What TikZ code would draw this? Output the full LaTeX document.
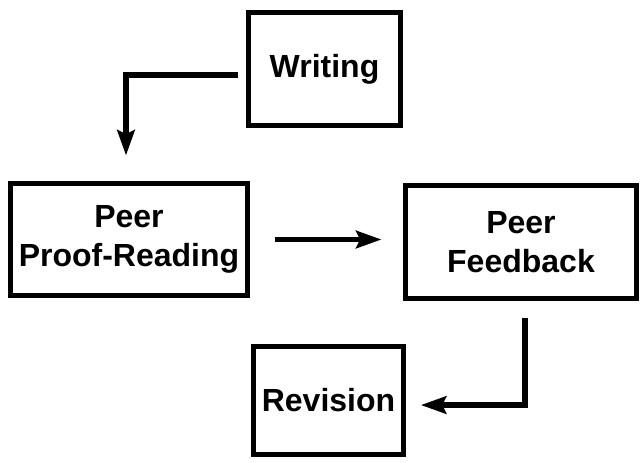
\documentclass[tikz,border=0pt]{standalone}
\usepackage{fontspec}
\setmainfont{Liberation Sans}
\usetikzlibrary{arrows.meta}

\begin{document}
\begin{tikzpicture}[x=0.75pt, y=-0.75pt, align=center,
		font=\fontsize{24}{29}\selectfont\bfseries,
		box/.style={draw, line width=4pt, inner sep=0pt},
		flow/.style={line width=4pt, -{Stealth[length=19pt,width=13pt,inset=3pt]}}]
		\useasboundingbox (0,0) rectangle (642,462);
		\node[box, minimum width=114pt, minimum height=84.75pt] (wri) at (324.5,69) {Writing};
		\node[box, minimum width=177.75pt, minimum height=84pt] (pr) at (129,239.5) {Peer\\Proof-Reading};
		\node[box, minimum width=173.25pt, minimum height=84.75pt] (fb) at (521,242) {Peer\\Feedback};
		\node[box, minimum width=112.5pt, minimum height=81pt] (rev) at (328.5,400.5) {Revision};
		\draw[flow, shorten <=6pt, shorten >=19pt] ([yshift=-4.5pt]wri.west) -| ([xshift=-2.25pt]pr.north);
		\draw[flow, shorten <=18.4pt, shorten >=16pt] (pr.east) -- (pr.east -| fb.west);
		\draw[flow, shorten <=12.4pt, shorten >=11pt] ([xshift=3pt]fb.south) |- ([yshift=-3.4pt]rev.east);
	\end{tikzpicture}
\end{document}
